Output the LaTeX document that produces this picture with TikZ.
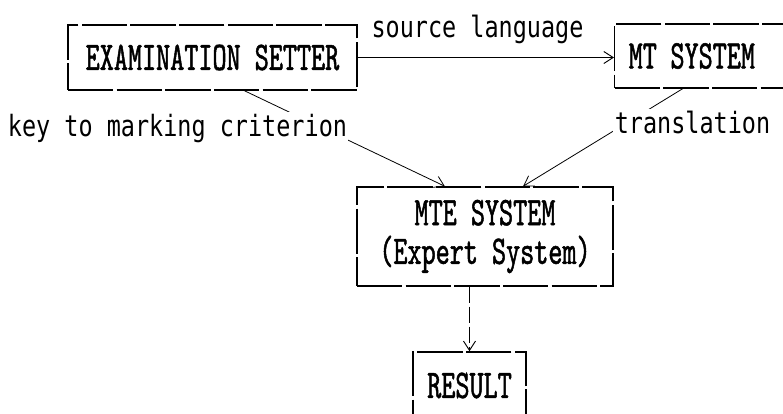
\documentclass[tikz,border=0pt]{standalone}
\usepackage{fontspec}
\newfontfamily\labelfont[FakeStretch=0.8]{DejaVu Sans Mono}
\newfontfamily\boxfont{lmmono10-regular.otf}[FakeStretch=0.66,FakeBold=1.2]
\usetikzlibrary{arrows.meta,calc}

\tikzset{
  unitbox/.style={draw, line width=1.1pt, dash pattern=on 34pt off 2.5pt,
    font=\fontsize{30.5}{29}\boxfont, inner sep=0pt},
  tag/.style={font=\labelfont\fontsize{22}{26}\selectfont, fill=white, inner sep=1pt},
  link/.style={line width=0.7pt, -{Straight Barb[length=7pt,width=9pt]}},
}

\begin{document}
\begin{tikzpicture}[x=0.75pt, y=-0.75pt]
\useasboundingbox (0,0) rectangle (783,414);
\clip (0,0) rectangle (783,414);

% Boxes
\node[unitbox, minimum width=216.75pt, minimum height=48.75pt] (setter) at (212.5,57.5) {EXAMINATION SETTER};
\node[unitbox, anchor=west, minimum height=48pt, text width=118.5pt, align=left, inner xsep=10.5pt] (mt) at (614,56) {MT SYSTEM};
\node[unitbox, minimum width=192pt, minimum height=74.25pt, align=center] (mte) at (485,236.5) {MTE SYSTEM\\(Expert System)};
\node[unitbox, minimum width=84.75pt, minimum height=50.25pt] (result) at (469.5,385.5) {RESULT};

% Connectors
\draw[link] (setter.east) -- (setter.east -| mt.west);
\draw[link, line width=0.6pt] ($(setter.south west)!0.61!(setter.south east)$) -- ($(mte.north west)!0.344!(mte.north east)$);
\draw[link, line width=0.6pt] ($(mt.south west)!0.366!(mt.south east)$) -- ($(mte.north west)!0.648!(mte.north east)$);
\draw[link, dash pattern=on 12pt off 3pt] (mte.south -| result.north) -- (result.north);

% Labels
\node[tag, anchor=base] (srclang) at (477.5,37) {source language};
\node[tag, anchor=base] (keycrit) at (177.5,136) {key to marking criterion};
\node[tag, anchor=base] (transl) at (692.5,133) {translation};

\end{tikzpicture}
\end{document}
